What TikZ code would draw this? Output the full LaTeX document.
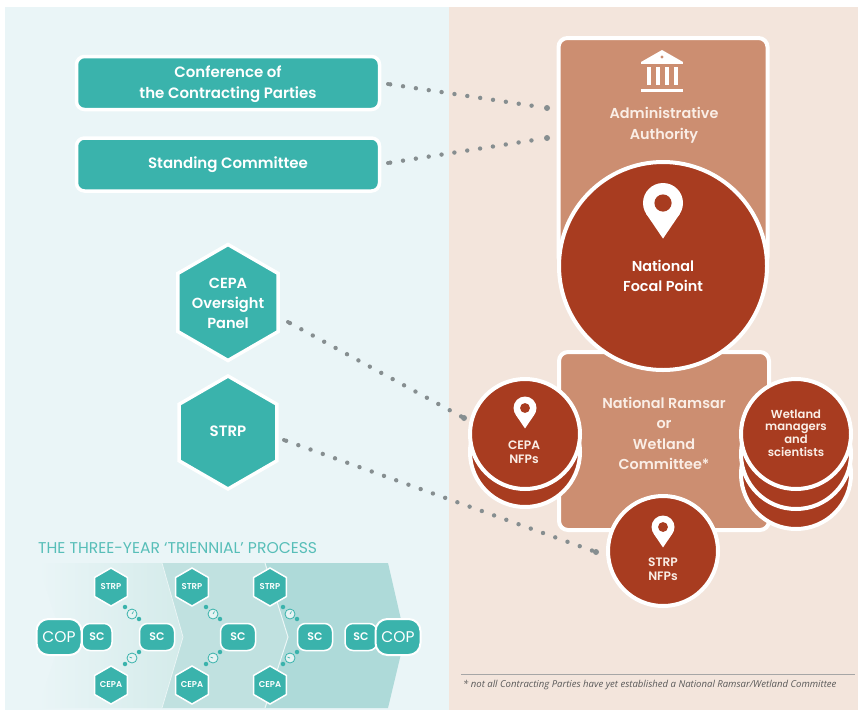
\documentclass[tikz,border=0pt]{standalone}
\usepackage{fontspec}
\setmainfont{Poppins SemiBold}
\newfontfamily\notefont{Open Sans}
\newfontfamily\lightfont{Poppins}
\usetikzlibrary{shapes.geometric}
\definecolor{panelblue}{RGB}{234,245,247}
\definecolor{panelsand}{RGB}{243,229,220}
\definecolor{ramsarteal}{RGB}{58,179,172}
\definecolor{clayrose}{RGB}{204,142,113}
\definecolor{rustred}{RGB}{168,60,32}
\definecolor{softcream}{RGB}{250,238,230}
\definecolor{dotgrey}{RGB}{134,142,144}
\definecolor{chevronone}{RGB}{212,235,234}
\definecolor{chevrontwo}{RGB}{192,225,224}
\definecolor{chevronthree}{RGB}{174,218,217}
\tikzset{
    tealbox/.style={rectangle, rounded corners=8pt, fill=ramsarteal, draw=white, line width=3.5pt, minimum width=303pt, minimum height=53pt},
    teallabel/.style={text=white, align=center, inner sep=0pt, font=\fontsize{15}{21}\selectfont},
    bighex/.style={regular polygon, regular polygon sides=6, regular polygon rotate=30, inner sep=0pt, fill=ramsarteal, draw=white, line width=3.5pt},
    minihex/.style={regular polygon, regular polygon sides=6, regular polygon rotate=30, inner sep=0pt, minimum size=38pt, fill=ramsarteal, draw=white, line width=1.5pt, text=white, font=\fontsize{8.5}{9}\selectfont},
    minibox/.style={rectangle, rounded corners=8pt, inner sep=0pt, fill=ramsarteal, draw=white, line width=1.5pt, minimum width=35pt, minimum height=27pt, text=white, font=\fontsize{11}{12}\selectfont},
    copbox/.style={minibox, minimum width=45pt, minimum height=36pt, rounded corners=12pt, line width=2pt, font=\lightfont\fontsize{15.5}{16}\selectfont},
    clayrect/.style={rectangle, rounded corners=9pt, fill=clayrose, draw=white, line width=4pt},
    rustdisc/.style={circle, inner sep=0pt, fill=rustred, draw=white, line width=4pt},
    lighttext/.style={text=softcream, align=center, inner sep=0pt, font=\fontsize{14.4}{20.5}\selectfont},
    smalltext/.style={text=softcream, align=center, inner sep=0pt, font=\fontsize{12.2}{13.5}\selectfont},
    dotlink/.style={dotgrey, line width=4.4pt, line cap=round, dash pattern=on 0pt off 13pt},
    linkend/.style={circle, inner sep=0pt, minimum size=6pt, fill=dotgrey},
    tickdot/.style={circle, inner sep=0pt, minimum size=4.5pt, fill=ramsarteal},
    clockmark/.style={circle, inner sep=0pt, minimum size=10pt, fill=white!60!chevrontwo, draw=ramsarteal, line width=0.8pt},
    locationpin/.pic={
        \fill[white] (0,0) circle (1);
        \fill[white] (-0.83,0.556) -- (0,1.78) -- (0.83,0.556) -- cycle;
        \fill[rustred] (0,0) circle (0.43);
    }
}
\begin{document}
\begin{tikzpicture}[x=1pt, y=-1pt]
    \useasboundingbox (0,0) rectangle (858,712);
    % Panels
    \fill[panelblue] (5,7) rectangle (448.5,710);
    \fill[panelsand] (448.5,7) rectangle (858,710);

    % Process chevrons
    \path[left color=panelblue, right color=chevronone, draw=none] (38,563) -- (162,563) -- (183,637) -- (162,708) -- (38,708) -- (62,637) -- cycle;
    \fill[chevrontwo] (162,563) -- (265,563) -- (288,637) -- (265,708) -- (162,708) -- (183,637) -- cycle;
    \fill[chevronthree] (265,563) -- (388,563) -- (405,637) -- (388,708) -- (265,708) -- (288,637) -- cycle;
    \draw[white!50!chevronone, line width=0.8pt] (162,563) -- (183,637) -- (162,708);
    \draw[white!70!chevrontwo, line width=1pt] (265,563) -- (288,637) -- (265,708);
    \node[text=ramsarteal!85!white, anchor=west, inner sep=0pt, font=\lightfont\fontsize{15.6}{17}\selectfont] (proctitle) at (38,548) {THE THREE-YEAR ‘TRIENNIAL’ PROCESS};

    % Process steps
    \foreach \x/\s/\n/\d in {111/157/a/14, 192/238/b/14, 270/315/c/13} {
        \node[minihex] (strp\n) at (\x,587) {STRP};
        \node[minihex] (cepa\n) at (\x,685) {CEPA};
        \node[minibox] (sc\n) at (\s,637) {SC};
        \node[tickdot] (tipa\n) at (\x+\d,607) {};
        \node[tickdot] (tipb\n) at (\x+\d+14,619) {};
        \node[clockmark] (clka\n) at (\x+\d+7,614) {};
        \draw[ramsarteal, line width=0.7pt] (clka\n.center) -- ++(1.5,-2.5);
        \node[tickdot] (tipc\n) at (\x+\d+14,652) {};
        \node[tickdot] (tipd\n) at (\x+\d,664) {};
        \node[clockmark] (clkb\n) at (\x+\d+7,658) {};
        \draw[ramsarteal, line width=0.7pt] (clkb\n.center) -- ++(-2.5,-1);
    }
    \node[minibox, minimum width=30pt] (scfirst) at (97,637) {SC};
    \node[copbox] (copfirst) at (59,637) {COP};
    \node[minibox, minimum width=32pt] (sclast) at (361,637) {SC};
    \node[copbox] (coplast) at (398,637) {COP};

    % Left column
    \node[tealbox] (conf) at (228,83) {};
    \node[teallabel] (conftext) at (228,84) {Conference of\\the Contracting Parties};
    \node[tealbox] (standing) at (228,164.5) {};
    \node[teallabel] (standingtext) at (228,165) {Standing Committee};
    \node[bighex, minimum size=116pt] (cepapanel) at (228,302.5) {};
    \node[teallabel, font=\fontsize{14.6}{20}\selectfont] (paneltext) at (228,303) {CEPA\\Oversight\\Panel};
    \node[bighex, minimum size=113pt] (strp) at (228,432.5) {};
    \node[teallabel] (strplabel) at (228,431.5) {STRP};

    % Right column
    \node[clayrect, minimum width=210pt, minimum height=178pt] (committee) at (664,441) {};
    \node[clayrect, minimum width=209pt, minimum height=228pt] (admin) at (663,152) {};
    \node[rustdisc, minimum size=208pt] (focal) at (663,266) {};

    % Building icon
    \fill[white] (641,89) rectangle (683,92);
    \foreach \x in {648.5,657.5,666.5,675.5} {
        \draw[white, line width=4pt] (\x,67) -- (\x,85);
    }
    \fill[white] (641,62) -- (662,50) -- (683,62) -- cycle;
    \fill[clayrose] (662,57) circle (1.6);
    \fill[white] (641,62) rectangle (683,64);

    \node[lighttext] (admintext) at (664,125) {Administrative\\Authority};
    \pic[scale=20] at (663,203) {locationpin};
    \node[lighttext, text=white] (focaltext) at (663,276) {National\\Focal Point};
    \node[lighttext] (committeetext) at (664,433.5) {National Ramsar\\or\\Wetland\\Committee*};

    % Circle stacks
    \node[rustdisc, minimum size=110pt] (cepaback) at (525,452) {};
    \node[rustdisc, minimum size=110pt] (cepafront) at (525,434) {};
    \pic[scale=11.5] at (525,408) {locationpin};
    \node[smalltext] (cepatext) at (524,452) {CEPA\\NFPs};

    \node[rustdisc, minimum size=110pt] (wetlandc) at (796,474) {};
    \node[rustdisc, minimum size=110pt] (wetlandb) at (796,454) {};
    \node[rustdisc, minimum size=110pt] (wetlanda) at (796,434) {};
    \node[smalltext, font=\fontsize{11.6}{12.8}\selectfont] (wetlandtext) at (796,433) {Wetland\\managers\\and\\scientists};

    \node[rustdisc, minimum size=110pt] (strpnfp) at (663,551) {};
    \pic[scale=11.5] at (663,527) {locationpin};
    \node[smalltext] (strptext) at (663,569) {STRP\\NFPs};

    % Dotted links
    \node[linkend, minimum size=4pt] (confout) at (388,84) {};
    \node[linkend] (adminup) at (547,108) {};
    \node[linkend, minimum size=4pt] (standout) at (388,163) {};
    \node[linkend] (admindown) at (547,138) {};
    \node[linkend, minimum size=4pt] (panelout) at (288,322) {};
    \node[linkend] (cepain) at (464,418) {};
    \node[linkend, minimum size=4pt] (strpout) at (284,440) {};
    \node[linkend] (strpin) at (596,552) {};
    \draw[dotlink] (confout) -- (adminup);
    \draw[dotlink] (standout) -- (admindown);
    \draw[dotlink] (panelout) -- (cepain);
    \draw[dotlink] (strpout) -- (strpin);

    % Footnote
    \coordinate (rulea) at (461,674.5);
    \coordinate (ruleb) at (855,674.5);
    \draw[black!35, line width=0.7pt] (rulea) -- (ruleb);
    \node[anchor=west, inner sep=0pt, text=black!65, font=\notefont\fontsize{9.55}{11}\selectfont\itshape] (footnote) at (463,685) {* not all Contracting Parties have yet established a National Ramsar/Wetland Committee};
\end{tikzpicture}
\end{document}
